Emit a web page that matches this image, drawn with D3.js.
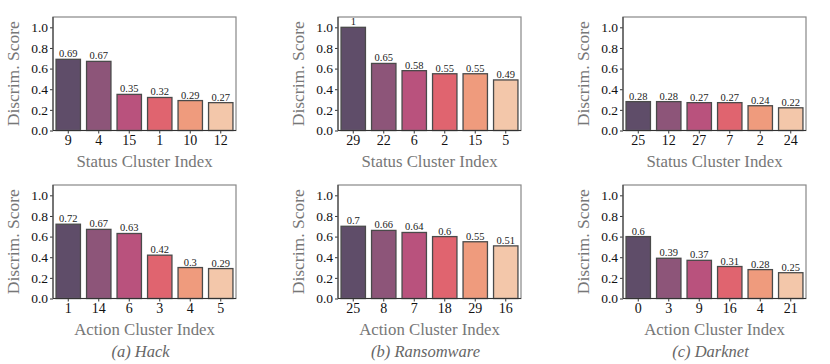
<!DOCTYPE html>
<meta charset="utf-8">
<head>
<title>Discrim. Score</title>
</head>
<style>
body { margin: 0; background: #fff; }
</style>
<body>
<div id="content">
  <svg width="830" height="364"></svg>
</div>

<script src="https://cdnjs.cloudflare.com/ajax/libs/d3/7.8.5/d3.min.js"></script>
<script>
// data
var hackStatusIdx = ["9", "4", "15", "1", "10", "12"]
var hackStatusVal = [0.69, 0.67, 0.35, 0.32, 0.29, 0.27]
var hackActionIdx = ["1", "14", "6", "3", "4", "5"]
var hackActionVal = [0.72, 0.67, 0.63, 0.42, 0.3, 0.29]

var ransomStatusIdx = ["29", "22", "6", "2", "15", "5"]
var ransomStatusVal = [1, 0.65, 0.58, 0.55, 0.55, 0.49]
var ransomActionIdx = ["25", "8", "7", "18", "29", "16"]
var ransomActionVal = [0.7, 0.66, 0.64, 0.6, 0.55, 0.51]

var darkStatusIdx = ["25", "12", "27", "7", "2", "24"]
var darkStatusVal = [0.28, 0.28, 0.27, 0.27, 0.24, 0.22]
var darkActionIdx = ["0", "3", "9", "16", "4", "21"]
var darkActionVal = [0.6, 0.39, 0.37, 0.31, 0.28, 0.25]

var yTicks = [0, 0.2, 0.4, 0.6, 0.8, 1.0]
var captions = ["(a) Hack", "(b) Ransomware", "(c) Darknet"]
var barColors = ["#5f4d69", "#8d5579", "#b9527d", "#e0646f", "#ef9b7d", "#f3c7aa"]

var serif = "'Liberation Serif'"
var svg = d3.select("svg")

// panel layout
var colX = [53, 338, 623]
var rowY = [17, 185]
var pw = 183, ph = 113.5

var panels = [
  {col: 0, row: 0, idx: hackStatusIdx, val: hackStatusVal, xlab: "Status Cluster Index"},
  {col: 0, row: 1, idx: hackActionIdx, val: hackActionVal, xlab: "Action Cluster Index"},
  {col: 1, row: 0, idx: ransomStatusIdx, val: ransomStatusVal, xlab: "Status Cluster Index"},
  {col: 1, row: 1, idx: ransomActionIdx, val: ransomActionVal, xlab: "Action Cluster Index"},
  {col: 2, row: 0, idx: darkStatusIdx, val: darkStatusVal, xlab: "Status Cluster Index"},
  {col: 2, row: 1, idx: darkActionIdx, val: darkActionVal, xlab: "Action Cluster Index"}
]

panels.forEach(function(p) {
  var g = svg.append("g")
    .attr("transform", "translate(" + colX[p.col] + "," + rowY[p.row] + ")")

  var x = d3.scaleBand().domain(p.idx).range([0, pw]).paddingInner(0.2).paddingOuter(0.1)
  var y = d3.scaleLinear().domain([0, 1.1]).range([ph, 0])

  var data = p.idx.map(function(k, i) { return {k: k, v: p.val[i], c: barColors[i]} })

  g.selectAll("rect.bar")
    .data(data)
    .enter()
    .append("rect")
    .attr("class", "bar")
    .attr("x", function(d) { return x(d.k) })
    .attr("y", function(d) { return y(d.v) })
    .attr("width", x.bandwidth())
    .attr("height", function(d) { return ph - y(d.v) })
    .attr("fill", function(d) { return d.c })
    .attr("stroke", "#4a4a4a")
    .attr("stroke-width", 1.3)

  g.selectAll("text.val")
    .data(data)
    .enter()
    .append("text")
    .attr("class", "val")
    .attr("x", function(d) { return x(d.k) + x.bandwidth() / 2 })
    .attr("y", function(d) { return y(d.v) - 2 })
    .attr("text-anchor", "middle")
    .style("font-family", serif)
    .attr("font-size", 10.5)
    .attr("fill", "#222")
    .text(function(d) { return String(d.v) })

  // axes
  var yAxis = g.append("g")
    .call(d3.axisLeft(y).tickValues(yTicks).tickFormat(d3.format(".1f")).tickSize(3).tickPadding(2))
  yAxis.select(".domain").remove()
  yAxis.selectAll("text").attr("font-size", 13.5).attr("fill", "#111")
    .style("font-family", serif)
  yAxis.selectAll("line").attr("stroke", "#333")

  var xAxis = g.append("g")
    .attr("transform", "translate(0," + ph + ")")
    .call(d3.axisBottom(x).tickSize(3).tickPadding(2))
  xAxis.select(".domain").remove()
  xAxis.selectAll("text").attr("font-size", 14).attr("fill", "#111")
    .style("font-family", serif)
  xAxis.selectAll("line").attr("stroke", "#333")

  // frame
  g.append("rect")
    .attr("x", 0).attr("y", 0).attr("width", pw).attr("height", ph)
    .attr("fill", "none").attr("stroke", "#888").attr("stroke-width", 1.2)
  g.append("line")
    .attr("x1", 0).attr("x2", 0).attr("y1", 0).attr("y2", ph)
    .attr("stroke", "#333").attr("stroke-width", 1)
  g.append("line")
    .attr("x1", 0).attr("x2", pw).attr("y1", ph).attr("y2", ph)
    .attr("stroke", "#333").attr("stroke-width", 1)

  g.append("text")
    .attr("x", pw / 2)
    .attr("y", ph + 36)
    .attr("text-anchor", "middle")
    .style("font-family", serif)
    .attr("font-size", 16.8)
    .attr("fill", "#777")
    .text(p.xlab)

  g.append("text")
    .attr("transform", "translate(-34," + (ph / 2) + ") rotate(-90)")
    .attr("text-anchor", "middle")
    .style("font-family", serif)
    .attr("font-size", 17.5)
    .attr("fill", "#777")
    .text("Discrim. Score")
})

svg.selectAll("text.cap")
  .data(captions)
  .enter()
  .append("text")
  .attr("class", "cap")
  .attr("x", function(d, i) { return colX[i] + pw / 2 - 4 })
  .attr("y", 357)
  .attr("text-anchor", "middle")
  .style("font-family", serif)
  .attr("font-size", 16.5)
  .attr("font-style", "italic")
  .attr("fill", "#666")
  .text(function(d) { return d })
</script>
</body>
</html>
